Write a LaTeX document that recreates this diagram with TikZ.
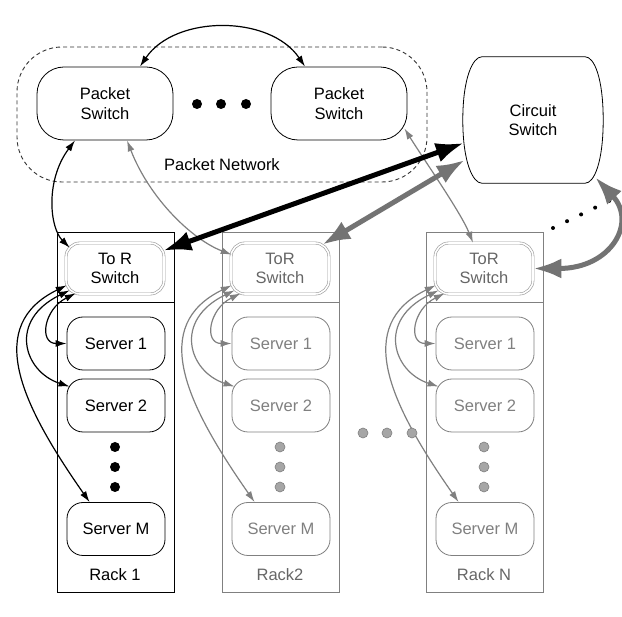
\documentclass[tikz,border=0pt]{standalone}
\usepackage{fontspec}
\setmainfont{Liberation Sans}
\usepackage{tikz}
\usetikzlibrary{positioning}
\usetikzlibrary{calc}
\usetikzlibrary{arrows.meta}
\colorlet{dim}{black!50}

\begin{document}
\begin{tikzpicture}[
    x=1pt, y=-1pt,
    font=\fontsize{16.5}{19.5}\selectfont,
    switch/.style={
      draw=black,
      line width=0.8pt,
      rounded corners=27pt,
      minimum width=136pt,
      minimum height=73pt,
      inner sep=0pt,
      align=center
    },
    pnet/.style={
      draw=black!80,
      line width=0.9pt,
      dash pattern=on 4pt off 3pt,
      rounded corners=45pt,
      minimum width=410pt,
      minimum height=135pt
    },
    tor/.style={
      draw=black!40,
      line width=0.6pt,
      double=white,
      double distance=1.6pt,
      rounded corners=14pt,
      minimum width=98pt,
      minimum height=51pt,
      inner sep=0pt,
      align=center,
      text=#1
    },
    tor/.default=black,
    server/.style={
      draw=#1,
      text=#1,
      line width=0.8pt,
      rounded corners=16pt,
      minimum width=98pt,
      minimum height=53pt,
      inner sep=0pt
    },
    server/.default=black,
    rack/.style={
      draw=#1,
      line width=0.8pt,
      minimum width=117pt,
      minimum height=360pt,
      inner sep=0pt
    },
    rack/.default=black,
    dot/.style={circle, fill=#1, inner sep=0pt, minimum size=10pt},
    dot/.default=black,
    gdot/.style={dot=black!35, draw=dim, line width=0.6pt},
    link/.style={
      draw=#1,
      line width=1.2pt,
      <->, >={Latex[length=11pt, width=7pt]}
    },
    link/.default=black,
    trunk/.style={
      draw=#1,
      line width=5pt,
      <->, >={Latex[length=28pt, width=20pt]}
    },
    trunk/.default=black
  ]

  \path[use as bounding box, fill=white] (0,0) rectangle (622,617);

  % packet network
  \node[pnet] (PN) at (222,114.5) {};
  \node (PNlabel) at (222,165) {Packet Network};
  \node[switch] (PS1) at (105,103.5) {Packet\\Switch};
  \node[switch] (PS2) at (339,103.5) {Packet\\Switch};
  \node[dot] (e1) at (197,104) {};
  \node[dot] (e2) at (221,104) {};
  \node[dot] (e3) at (246,104) {};

  % circuit switch
  \node[minimum width=140pt, minimum height=126pt, inner sep=0pt, align=center]
    (CS) at (533,120) {Circuit\\Switch};
  \draw[line width=0.8pt] ($(CS.north west)+(19,0)$) -- ($(CS.north east)+(-18,0)$)
    .. controls +(9,0) and +(0,-42) .. (CS.east)
    .. controls +(0,42) and +(9,0) .. ($(CS.south east)+(-18,0)$)
    -- ($(CS.south west)+(19,0)$)
    .. controls +(-9,0) and +(0,42) .. (CS.west)
    .. controls +(0,-42) and +(-9,0) .. ($(CS.north west)+(19,0)$) -- cycle;

  % rack 1
  \begin{scope}
    \node[rack] (R1) at (115.5,412) {};
    \draw[line width=0.8pt] ($(R1.north west)+(0,71)$) -- ($(R1.north east)+(0,71)$);
    \node[tor] (T1) at (115,268.5) {To R\\Switch};
    \node[server] (S11) at (116,343.5) {Server 1};
    \node[server] (S12) at (116,405.5) {Server 2};
    \node[server] (S1M) at (116,529) {Server M};
    \node[dot] (d11) at (115,447) {};
    \node[dot] (d12) at (115,467) {};
    \node[dot] (d13) at (115,487) {};
    \node (L1) at (115,575) {Rack 1};

    \draw[link] ($(T1.south west)+(10,-1)$) .. controls +(-32,16) and +(-28,0) .. (S11.west);
    \draw[link] ($(T1.south west)+(4,-4)$) .. controls +(-62,30) and +(-46,-15) .. ($(S12.north west)+(3,8)$);
    \draw[link] ($(T1.south west)+(1,-9)$) .. controls +(-82,40) and +(-70,-100) .. ($(S1M.north west)+(23,0)$);
  \end{scope}

  % rack 2
  \begin{scope}[xshift=165pt]
    \node[rack=dim] (R2) at (115.5,412) {};
    \draw[dim, line width=0.8pt] ($(R2.north west)+(0,71)$) -- ($(R2.north east)+(0,71)$);
    \node[tor=black!60] (T2) at (115,268.5) {ToR\\Switch};
    \node[server=dim] (S21) at (116,343.5) {Server 1};
    \node[server=dim] (S22) at (116,405.5) {Server 2};
    \node[server=dim] (S2M) at (116,529) {Server M};
    \node[gdot] (d21) at (115,447) {};
    \node[gdot] (d22) at (115,467) {};
    \node[gdot] (d23) at (115,487) {};
    \node[text=black!60] (L2) at (115,575) {Rack2};

    \draw[link=dim] ($(T2.south west)+(10,-1)$) .. controls +(-32,16) and +(-28,0) .. (S21.west);
    \draw[link=dim] ($(T2.south west)+(4,-4)$) .. controls +(-62,30) and +(-46,-15) .. ($(S22.north west)+(3,8)$);
    \draw[link=dim] ($(T2.south west)+(1,-9)$) .. controls +(-82,40) and +(-70,-100) .. ($(S2M.north west)+(23,0)$);
  \end{scope}

  % rack N
  \begin{scope}[xshift=369pt]
    \node[rack=dim] (RN) at (115.5,412) {};
    \draw[dim, line width=0.8pt] ($(RN.north west)+(0,71)$) -- ($(RN.north east)+(0,71)$);
    \node[tor=black!60] (TN) at (115,268.5) {ToR\\Switch};
    \node[server=dim] (SN1) at (116,343.5) {Server 1};
    \node[server=dim] (SN2) at (116,405.5) {Server 2};
    \node[server=dim] (SNM) at (116,529) {Server M};
    \node[gdot] (dN1) at (115,447) {};
    \node[gdot] (dN2) at (115,467) {};
    \node[gdot] (dN3) at (115,487) {};
    \node[text=black!60] (LN) at (115,575) {Rack N};

    \draw[link=dim] ($(TN.south west)+(10,-1)$) .. controls +(-32,16) and +(-28,0) .. (SN1.west);
    \draw[link=dim] ($(TN.south west)+(4,-4)$) .. controls +(-62,30) and +(-46,-15) .. ($(SN2.north west)+(3,8)$);
    \draw[link=dim] ($(TN.south west)+(1,-9)$) .. controls +(-82,40) and +(-70,-100) .. ($(SNM.north west)+(23,0)$);
  \end{scope}

  \node[gdot] (r1) at (363,433) {};
  \node[gdot] (r2) at (387,433) {};
  \node[gdot] (r3) at (412,433) {};

  % links to the switches
  \draw[link] (PS1.north) ++(35,0) .. controls +(35,-52) and +(-35,-52) .. ($(PS2.north)+(-34,0)$);
  \draw[link] ($(PS1.south)+(-30,0)$) .. controls +(-30,40) and +(-20,-20) .. ($(T1.north west)+(4,5)$);
  \draw[link=dim] ($(PS1.south)+(22,0)$) .. controls +(23,59) and +(-39,-15) .. ($(T2.north west)+(1,12)$);
  \draw[link=dim] ($(PS2.south east)+(-3,-12)$) .. controls +(20,32) and +(-12,-30) .. ($(TN.north)+(-11,0)$);

  \coordinate (dotsA) at (553,228);
  \coordinate (dotsB) at (613,199);
  \draw[line width=4pt, line cap=round, dash pattern=on 0pt off 15.6pt] (dotsA) -- (dotsB);

  \draw[trunk=black!55] ($(T2.north east)+(-7,2)$) -- ($(CS.west)+(2,40)$);
  \draw[trunk=black!55] ($(CS.south east)+(-8,-6)$) .. controls +(42,45) and +(78,0) .. (TN.east);
  \draw[trunk] ($(T1.north east)+(-1,8)$) -- ($(CS.west)+(1,23)$);

\end{tikzpicture}
\end{document}
